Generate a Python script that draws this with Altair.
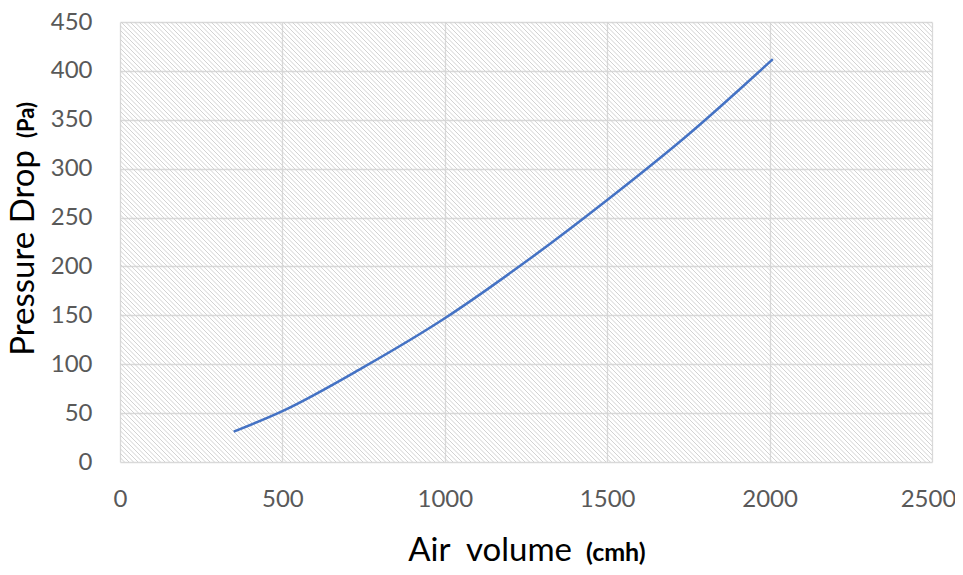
import altair as alt
import pandas as pd

air_volume = [350, 500, 750, 1000, 1250, 1500, 1750, 2010]
pressure_drop = [31, 52, 97, 147, 205, 268, 335, 412]
x_ticks = [0, 500, 1000, 1500, 2000, 2500]
y_ticks = [0, 50, 100, 150, 200, 250, 300, 350, 400, 450]

W, H = 812, 440
df = pd.DataFrame({"air": air_volume, "dp": pressure_drop})
FONT = "Lato"

# decorative diagonal hatch of the plot area (pixel-space, independent scales)
hatch = alt.Chart(alt.sequence(start=-H, stop=W, step=4.5, as_="k")).transform_calculate(
    k2="datum.k + %d" % H, ytop="%d" % H, ybot="0"
).mark_rule(color="#d2d2d2", strokeWidth=1, clip=True).encode(
    x=alt.X("k:Q", scale=alt.Scale(domain=[0, W], nice=False, zero=False), axis=None),
    x2="k2:Q",
    y=alt.Y("ytop:Q", scale=alt.Scale(domain=[0, H], nice=False), axis=None),
    y2="ybot:Q",
)

line = alt.Chart(df).mark_line(color="#4472C4", strokeWidth=2.5, interpolate="monotone").encode(
    x=alt.X("air:Q", scale=alt.Scale(domain=[0, 2500], nice=False),
            axis=alt.Axis(values=x_ticks, format="d", title=None, grid=True, gridColor="#d9d9d9",
                          gridWidth=1.3, domain=False, ticks=False, labelFont=FONT, labelFontSize=24,
                          labelColor="#595959", labelPadding=25, labelFlush=False,
                          labelOffset=alt.expr("datum.value == 2500 ? -4 : 0"))),
    y=alt.Y("dp:Q", scale=alt.Scale(domain=[0, 450], nice=False),
            axis=alt.Axis(values=y_ticks, title=None, grid=True, gridColor="#d9d9d9", gridWidth=1.3,
                          domain=False, ticks=False, labelFont=FONT, labelFontSize=24,
                          labelColor="#595959", labelPadding=28, labelFlush=False)),
)

def label(txt, x, y, size, align, angle=0, weight="normal"):
    return alt.Chart(pd.DataFrame({"t": [txt]})).mark_text(
        font=FONT, fontSize=size, align=align, baseline="alphabetic", angle=angle,
        color="#000000", fontWeight=weight,
    ).encode(text="t:N", x=alt.value(x), y=alt.value(y))

titles = [
    label("Air\u00a0\u00a0volume", 452, 539, 33, "right"),
    label("(cmh)", 466, 539, 25, "left", weight="bold"),
    label("Pressure Drop", -86, 128, 33, "right", angle=270),
    label("(Pa)", -86, 116, 22, "left", angle=270, weight="bold"),
]

chart = alt.layer(hatch, line, *titles).resolve_scale(
    x="independent", y="independent"
).properties(
    width=W, height=H,
    autosize=alt.AutoSizeParams(type="none"),
    padding={"left": 112, "top": 14, "right": 23, "bottom": 105},
).configure_view(fill="#ffffff", stroke=None)

chart.save("out.html", embed_options={"renderer": "svg", "actions": False})
